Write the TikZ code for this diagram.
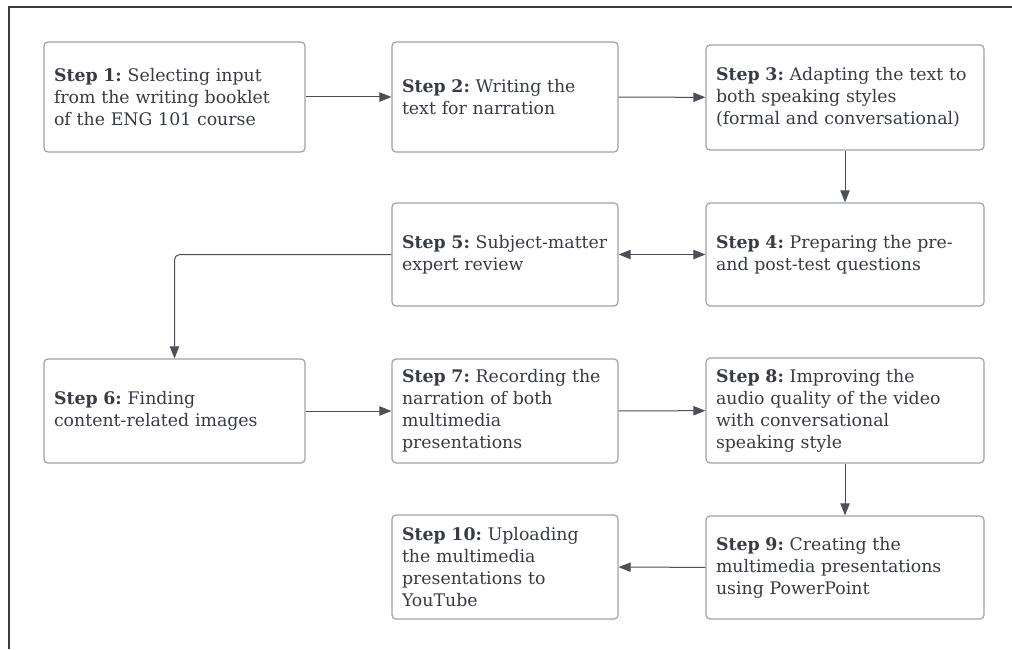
\documentclass[tikz,border=0pt]{standalone}
\usepackage{fontspec}
\setmainfont{DejaVu Serif}
\usetikzlibrary{arrows.meta}
\frenchspacing
\definecolor{boxgray}{HTML}{9DA1A7}
\definecolor{inkgray}{HTML}{363B44}
\definecolor{linegray}{HTML}{4B5058}
\definecolor{framegray}{HTML}{3C3C3C}
\tikzset{
	stepbox/.style={draw=boxgray, line width=0.9pt, rounded corners=3pt, text=inkgray,
		align=left, inner xsep=7.5pt, inner ysep=0pt, font=\fontsize{13}{16.5}\selectfont},
	colone/.style={stepbox, text width=180.75pt},
	coltwo/.style={stepbox, text width=154.5pt},
	colthree/.style={stepbox, text width=193.5pt},
	flow/.style={draw=linegray, line width=0.75pt, -{Triangle[length=9pt,width=7pt]}},
}
\begin{document}
\begin{tikzpicture}[x=0.75pt, y=-0.75pt]
	\useasboundingbox (0,0) rectangle (1012,649);
	% frame
	\draw[framegray, line width=1.1pt] (1012,7) -- (9,7) -- (9,649);
	% first row
	\node[colone, minimum height=82.5pt] (s1) at (174.5,97) {\textbf{Step 1:} Selecting input\\from the writing booklet\\of the ENG 101 course};
	\node[coltwo, minimum height=82.5pt] (s2) at (505,97) {\textbf{Step 2:} Writing the\\text for narration};
	\node[colthree, minimum height=78.75pt] (s3) at (845,97.5) {\textbf{Step 3:} Adapting the text to\\both speaking styles\\(formal and conversational)};
	% second row
	\node[colthree, minimum height=77.25pt] (s4) at (845,254.5) {\textbf{Step 4:} Preparing the pre-\\and post-test questions};
	\node[coltwo, minimum height=77.25pt] (s5) at (505,254.5) {\textbf{Step 5:} Subject-matter\\expert review};
	% third row
	\node[colone, minimum height=78pt] (s6) at (174.5,411) {\textbf{Step 6:} Finding\\content-related images};
	\node[coltwo, minimum height=78pt] (s7) at (505,411) {\textbf{Step 7:} Recording the\\narration of both\\multimedia\\presentations};
	\node[colthree, minimum height=78.75pt] (s8) at (845,410.5) {\textbf{Step 8:} Improving the\\audio quality of the video\\with conversational\\speaking style};
	% fourth row
	\node[colthree, minimum height=77.25pt] (s9) at (845,567.5) {\textbf{Step 9:} Creating the\\multimedia presentations\\using PowerPoint};
	\node[coltwo, minimum height=78pt] (s10) at (505,567) {\textbf{Step 10:} Uploading\\the multimedia\\presentations to\\YouTube};
	% connectors
	\draw[flow] (s1) -- (s2);
	\draw[flow] (s2) -- (s3);
	\draw[flow] (s3) -- (s4);
	\draw[flow, {Triangle[length=9pt,width=7pt]}-{Triangle[length=9pt,width=7pt]}] (s5) -- (s4);
	\draw[flow, rounded corners=4pt] (s5.west) -| (s6.north);
	\draw[flow] (s6) -- (s7);
	\draw[flow] (s7) -- (s8);
	\draw[flow] (s8) -- (s9);
	\draw[flow] (s9) -- (s10);
\end{tikzpicture}
\end{document}
